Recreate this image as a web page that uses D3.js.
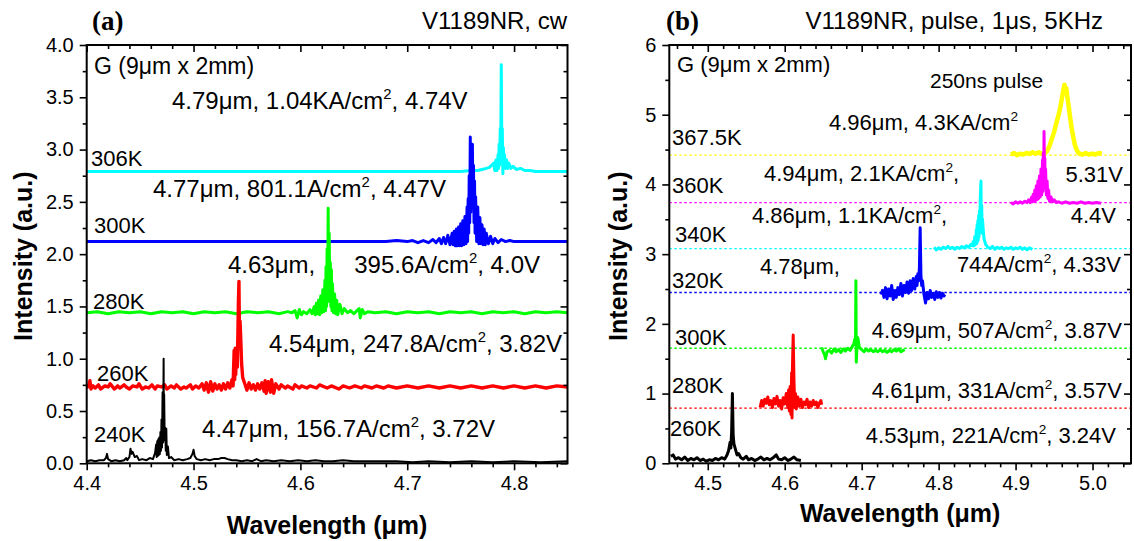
<!DOCTYPE html>
<html>
<head>
<meta charset="utf-8">
<script src="https://cdn.jsdelivr.net/npm/d3@7"></script>
<style>
  body { margin: 0; background: #fff; }
  text { font-family: "Liberation Sans", Arial, sans-serif; fill: #000; }
</style>
</head>
<body>
<svg id="fig" width="1134" height="541"></svg>
<script>
// ---------------- Panel (a): CW spectra, wavelength (um) vs intensity (a.u.) ----------------
const cw306K = [[4.400,2.79],[4.420,2.79],[4.440,2.79],[4.460,2.79],[4.480,2.79],[4.500,2.79],[4.520,2.79],[4.540,2.79],[4.560,2.79],[4.580,2.79],[4.600,2.79],[4.620,2.79],[4.640,2.79],[4.660,2.79],[4.680,2.79],[4.700,2.79],[4.720,2.79],[4.740,2.79],[4.750,2.79],[4.760,2.80],[4.766,2.80],[4.770,2.81],[4.774,2.82],[4.777,2.83],[4.779,2.85],[4.781,2.87],[4.782,2.80],[4.783,2.90],[4.784,2.80],[4.785,2.95],[4.7855,2.82],[4.786,3.05],[4.7865,2.85],[4.787,3.20],[4.7875,3.00],[4.788,3.81],[4.7885,3.10],[4.789,3.20],[4.7895,2.77],[4.790,3.02],[4.7905,2.82],[4.791,2.95],[4.792,2.82],[4.793,2.90],[4.794,2.82],[4.795,2.87],[4.797,2.82],[4.799,2.84],[4.802,2.81],[4.806,2.82],[4.810,2.80],[4.815,2.80],[4.820,2.79],[4.830,2.79],[4.840,2.79],[4.850,2.79]];

const cw300K = [[4.400,2.12],[4.420,2.12],[4.440,2.12],[4.460,2.12],[4.480,2.12],[4.500,2.12],[4.520,2.12],[4.540,2.12],[4.560,2.12],[4.580,2.12],[4.600,2.12],[4.620,2.12],[4.640,2.12],[4.660,2.12],[4.680,2.12],[4.690,2.13],[4.700,2.12],[4.705,2.13],[4.710,2.11],[4.715,2.13],[4.720,2.11],[4.724,2.14],[4.727,2.11],[4.730,2.15],[4.732,2.10],[4.734,2.16],[4.736,2.10],[4.738,2.18],[4.740,2.09],[4.742,2.20],[4.743,2.09],[4.744,2.22],[4.745,2.08],[4.746,2.24],[4.747,2.08],[4.748,2.26],[4.749,2.08],[4.750,2.29],[4.751,2.08],[4.752,2.32],[4.753,2.09],[4.754,2.36],[4.755,2.10],[4.756,2.45],[4.7565,2.12],[4.757,2.53],[4.7575,2.20],[4.758,2.75],[4.7585,2.30],[4.759,3.12],[4.7595,2.40],[4.760,3.00],[4.7605,2.50],[4.761,3.05],[4.7615,2.45],[4.762,2.85],[4.7625,2.30],[4.763,2.70],[4.7635,2.20],[4.764,2.55],[4.765,2.12],[4.766,2.45],[4.767,2.10],[4.768,2.35],[4.769,2.10],[4.770,2.28],[4.771,2.09],[4.772,2.24],[4.773,2.09],[4.774,2.20],[4.776,2.10],[4.778,2.17],[4.780,2.10],[4.782,2.15],[4.785,2.11],[4.788,2.14],[4.792,2.12],[4.796,2.13],[4.800,2.12],[4.810,2.12],[4.820,2.12],[4.830,2.12],[4.840,2.12],[4.850,2.12]];

const cw280K = [[4.400,1.44],[4.410,1.45],[4.420,1.43],[4.430,1.45],[4.440,1.44],[4.450,1.45],[4.460,1.43],[4.470,1.45],[4.480,1.44],[4.490,1.45],[4.500,1.43],[4.510,1.45],[4.520,1.44],[4.530,1.45],[4.540,1.43],[4.550,1.45],[4.560,1.44],[4.570,1.45],[4.580,1.43],[4.588,1.45],[4.592,1.44],[4.595,1.46],[4.597,1.39],[4.599,1.47],[4.601,1.42],[4.603,1.45],[4.606,1.43],[4.609,1.47],[4.611,1.43],[4.613,1.50],[4.614,1.42],[4.615,1.53],[4.616,1.43],[4.617,1.56],[4.618,1.42],[4.619,1.60],[4.620,1.44],[4.621,1.66],[4.622,1.45],[4.623,1.75],[4.6235,1.46],[4.624,1.88],[4.6245,1.50],[4.625,2.05],[4.6255,1.55],[4.626,2.44],[4.6265,1.60],[4.627,2.20],[4.6275,1.55],[4.628,1.92],[4.6285,1.50],[4.629,1.85],[4.6295,1.46],[4.630,1.72],[4.631,1.44],[4.632,1.62],[4.633,1.43],[4.634,1.56],[4.635,1.42],[4.637,1.52],[4.639,1.43],[4.641,1.48],[4.644,1.44],[4.647,1.46],[4.650,1.43],[4.653,1.46],[4.655,1.48],[4.656,1.39],[4.658,1.47],[4.660,1.43],[4.663,1.45],[4.670,1.44],[4.680,1.45],[4.690,1.43],[4.700,1.45],[4.710,1.44],[4.720,1.45],[4.730,1.43],[4.740,1.45],[4.750,1.44],[4.760,1.45],[4.770,1.43],[4.780,1.45],[4.790,1.44],[4.800,1.45],[4.810,1.43],[4.820,1.45],[4.830,1.44],[4.840,1.45],[4.850,1.44]];

const cw260K = [[4.400,0.72],[4.402,0.75],[4.403,0.79],[4.404,0.71],[4.406,0.74],[4.408,0.72],[4.411,0.75],[4.413,0.71],[4.417,0.74],[4.420,0.73],[4.422,0.76],[4.426,0.71],[4.429,0.74],[4.431,0.72],[4.435,0.75],[4.437,0.73],[4.440,0.71],[4.443,0.74],[4.447,0.73],[4.449,0.76],[4.452,0.71],[4.455,0.73],[4.458,0.72],[4.461,0.75],[4.464,0.71],[4.466,0.74],[4.470,0.73],[4.473,0.75],[4.475,0.71],[4.479,0.74],[4.482,0.72],[4.484,0.75],[4.488,0.71],[4.491,0.73],[4.493,0.72],[4.497,0.75],[4.499,0.71],[4.502,0.74],[4.505,0.72],[4.508,0.76],[4.510,0.70],[4.512,0.77],[4.514,0.68],[4.516,0.78],[4.518,0.69],[4.520,0.76],[4.522,0.71],[4.524,0.75],[4.526,0.70],[4.528,0.76],[4.530,0.71],[4.532,0.77],[4.534,0.72],[4.536,0.80],[4.537,0.74],[4.538,1.08],[4.5385,0.80],[4.539,1.10],[4.5395,0.85],[4.540,1.05],[4.541,0.92],[4.542,1.55],[4.5425,1.74],[4.543,1.15],[4.5435,1.36],[4.544,1.24],[4.545,0.95],[4.546,0.82],[4.548,0.76],[4.550,0.70],[4.552,0.77],[4.554,0.71],[4.556,0.75],[4.558,0.70],[4.560,0.76],[4.562,0.71],[4.564,0.77],[4.566,0.69],[4.567,0.79],[4.568,0.67],[4.570,0.78],[4.572,0.68],[4.573,0.80],[4.575,0.67],[4.577,0.76],[4.580,0.71],[4.582,0.75],[4.586,0.72],[4.588,0.74],[4.593,0.71],[4.595,0.75],[4.599,0.72],[4.601,0.74],[4.606,0.72],[4.609,0.74],[4.615,0.72],[4.618,0.75],[4.625,0.72],[4.629,0.74],[4.636,0.71],[4.640,0.74],[4.646,0.72],[4.651,0.74],[4.657,0.72],[4.660,0.74],[4.667,0.72],[4.671,0.74],[4.678,0.72],[4.682,0.74],[4.690,0.72],[4.700,0.74],[4.710,0.72],[4.720,0.74],[4.730,0.72],[4.740,0.74],[4.750,0.72],[4.760,0.74],[4.770,0.72],[4.780,0.74],[4.790,0.72],[4.800,0.74],[4.810,0.72],[4.820,0.74],[4.830,0.72],[4.840,0.74],[4.850,0.73]];

const cw240K = [[4.400,0.02],[4.404,0.03],[4.408,0.02],[4.412,0.03],[4.416,0.03],[4.418,0.05],[4.419,0.09],[4.420,0.04],[4.423,0.02],[4.427,0.03],[4.431,0.02],[4.435,0.03],[4.437,0.05],[4.438,0.03],[4.440,0.06],[4.441,0.14],[4.442,0.09],[4.443,0.11],[4.445,0.06],[4.447,0.07],[4.449,0.03],[4.452,0.04],[4.456,0.03],[4.459,0.05],[4.462,0.04],[4.464,0.10],[4.465,0.18],[4.4655,0.06],[4.466,0.21],[4.4665,0.07],[4.467,0.23],[4.4675,0.08],[4.468,0.25],[4.4685,0.09],[4.469,0.30],[4.4695,0.12],[4.470,0.42],[4.4705,0.15],[4.471,0.68],[4.4715,0.20],[4.472,1.00],[4.4722,0.30],[4.4725,0.66],[4.473,0.22],[4.4735,0.34],[4.474,0.12],[4.4745,0.33],[4.475,0.08],[4.476,0.16],[4.477,0.05],[4.479,0.06],[4.482,0.03],[4.486,0.04],[4.490,0.03],[4.494,0.04],[4.497,0.05],[4.499,0.09],[4.500,0.13],[4.501,0.07],[4.503,0.04],[4.507,0.03],[4.511,0.04],[4.515,0.03],[4.519,0.04],[4.523,0.04],[4.526,0.05],[4.529,0.05],[4.532,0.04],[4.536,0.03],[4.540,0.03],[4.545,0.02],[4.550,0.03],[4.555,0.02],[4.559,0.04],[4.563,0.02],[4.568,0.03],[4.575,0.02],[4.582,0.03],[4.590,0.02],[4.598,0.03],[4.606,0.02],[4.614,0.03],[4.622,0.02],[4.630,0.02],[4.640,0.03],[4.650,0.02],[4.660,0.02],[4.675,0.02],[4.690,0.02],[4.705,0.01],[4.720,0.02],[4.740,0.01],[4.760,0.02],[4.780,0.01],[4.800,0.02],[4.825,0.01],[4.850,0.02]];

// ---------------- Panel (b): pulsed spectra ----------------
const pulse367K = [[4.894,4.43],[4.898,4.45],[4.902,4.42],[4.906,4.44],[4.910,4.43],[4.914,4.45],[4.918,4.44],[4.922,4.46],[4.926,4.44],[4.930,4.46],[4.934,4.44],[4.938,4.45],[4.941,4.48],[4.944,4.55],[4.947,4.65],[4.950,4.75],[4.953,4.88],[4.956,5.00],[4.958,5.10],[4.960,5.22],[4.962,5.35],[4.9635,5.43],[4.965,5.36],[4.966,5.38],[4.967,5.28],[4.969,5.12],[4.971,4.95],[4.973,4.80],[4.975,4.68],[4.977,4.57],[4.980,4.48],[4.983,4.44],[4.987,4.43],[4.991,4.45],[4.995,4.43],[5.000,4.44],[5.004,4.43],[5.008,4.45],[5.012,4.44]];

const pulse360K = [[4.894,3.74],[4.897,3.72],[4.900,3.75],[4.903,3.73],[4.906,3.75],[4.909,3.73],[4.912,3.76],[4.915,3.74],[4.917,3.78],[4.919,3.74],[4.921,3.82],[4.922,3.75],[4.923,3.86],[4.924,3.76],[4.925,3.92],[4.926,3.77],[4.927,3.98],[4.928,3.78],[4.929,4.05],[4.930,3.80],[4.931,4.12],[4.932,3.82],[4.933,4.22],[4.934,3.85],[4.935,4.35],[4.9355,3.90],[4.936,4.45],[4.9365,4.00],[4.937,4.76],[4.9375,4.10],[4.938,4.38],[4.9385,3.95],[4.939,4.22],[4.940,3.85],[4.941,4.05],[4.942,3.80],[4.943,3.92],[4.944,3.76],[4.946,3.82],[4.948,3.75],[4.950,3.78],[4.953,3.74],[4.956,3.75],[4.960,3.73],[4.965,3.75],[4.970,3.73],[4.975,3.74],[4.980,3.73],[4.985,3.75],[4.990,3.73],[4.995,3.74],[5.000,3.73],[5.005,3.74],[5.011,3.73]];

const pulse340K = [[4.794,3.10],[4.797,3.06],[4.800,3.09],[4.803,3.07],[4.806,3.10],[4.809,3.08],[4.812,3.11],[4.815,3.08],[4.818,3.10],[4.821,3.07],[4.824,3.10],[4.827,3.08],[4.830,3.11],[4.833,3.09],[4.836,3.12],[4.839,3.10],[4.842,3.14],[4.844,3.12],[4.845,3.18],[4.846,3.12],[4.847,3.25],[4.848,3.14],[4.849,3.35],[4.8495,3.15],[4.850,3.42],[4.8505,3.18],[4.851,3.48],[4.8515,3.20],[4.852,3.55],[4.8525,3.25],[4.853,3.62],[4.8535,3.30],[4.854,3.75],[4.855,4.05],[4.8555,3.40],[4.856,3.70],[4.8565,3.30],[4.857,3.50],[4.858,3.35],[4.859,3.22],[4.861,3.14],[4.864,3.10],[4.867,3.08],[4.870,3.11],[4.873,3.07],[4.876,3.10],[4.879,3.08],[4.882,3.10],[4.885,3.07],[4.888,3.09],[4.891,3.08],[4.894,3.10],[4.897,3.07],[4.900,3.09],[4.903,3.08],[4.906,3.10],[4.909,3.07],[4.912,3.09],[4.915,3.06],[4.918,3.09],[4.922,3.07]];

const pulse320K = [[4.725,2.42],[4.727,2.48],[4.729,2.38],[4.731,2.52],[4.733,2.36],[4.735,2.50],[4.737,2.40],[4.739,2.55],[4.741,2.35],[4.743,2.48],[4.745,2.38],[4.747,2.52],[4.749,2.42],[4.751,2.58],[4.753,2.40],[4.755,2.55],[4.757,2.45],[4.759,2.60],[4.761,2.44],[4.763,2.62],[4.765,2.48],[4.767,2.65],[4.769,2.50],[4.771,2.68],[4.772,2.55],[4.773,2.72],[4.774,2.62],[4.775,2.80],[4.776,3.38],[4.777,2.70],[4.778,2.55],[4.779,2.62],[4.781,2.42],[4.783,2.30],[4.785,2.45],[4.787,2.36],[4.789,2.48],[4.791,2.38],[4.793,2.44],[4.795,2.35],[4.797,2.46],[4.799,2.38],[4.801,2.45],[4.803,2.37],[4.805,2.44],[4.807,2.40],[4.808,2.42]];

const pulse300K = [[4.648,1.66],[4.650,1.60],[4.652,1.55],[4.653,1.50],[4.655,1.60],[4.658,1.62],[4.661,1.58],[4.664,1.64],[4.667,1.60],[4.670,1.63],[4.673,1.59],[4.676,1.64],[4.679,1.61],[4.682,1.65],[4.685,1.62],[4.688,1.68],[4.690,1.72],[4.691,1.78],[4.692,1.70],[4.6925,2.62],[4.693,1.45],[4.694,1.70],[4.695,1.80],[4.697,1.66],[4.700,1.63],[4.703,1.60],[4.706,1.64],[4.709,1.61],[4.712,1.63],[4.715,1.60],[4.718,1.62],[4.721,1.60],[4.724,1.63],[4.727,1.60],[4.730,1.62],[4.733,1.59],[4.736,1.62],[4.739,1.60],[4.742,1.63],[4.745,1.61],[4.748,1.64],[4.751,1.60],[4.754,1.62],[4.756,1.63]];

const pulse280K = [[4.568,0.80],[4.570,0.90],[4.572,0.82],[4.574,0.92],[4.576,0.86],[4.578,0.95],[4.580,0.84],[4.582,0.90],[4.584,0.80],[4.586,0.93],[4.588,0.85],[4.590,0.96],[4.592,0.82],[4.594,0.90],[4.596,0.78],[4.598,0.94],[4.600,0.85],[4.602,1.00],[4.604,0.80],[4.605,1.05],[4.606,0.75],[4.607,1.10],[4.608,0.70],[4.609,1.30],[4.6095,0.65],[4.610,1.35],[4.611,1.84],[4.612,1.20],[4.613,0.80],[4.614,1.00],[4.615,0.78],[4.617,0.95],[4.619,0.82],[4.621,0.92],[4.623,0.80],[4.625,0.88],[4.627,0.84],[4.629,0.92],[4.631,0.80],[4.633,0.88],[4.635,0.82],[4.637,0.90],[4.639,0.84],[4.641,0.88],[4.643,0.80],[4.645,0.86],[4.647,0.90],[4.648,0.84]];

const pulse260K = [[4.452,0.10],[4.455,0.12],[4.458,0.06],[4.462,0.08],[4.466,0.05],[4.470,0.09],[4.474,0.04],[4.478,0.07],[4.482,0.05],[4.486,0.08],[4.490,0.04],[4.494,0.06],[4.498,0.03],[4.502,0.05],[4.506,0.04],[4.510,0.07],[4.514,0.05],[4.518,0.08],[4.522,0.06],[4.525,0.12],[4.527,0.18],[4.529,0.30],[4.530,0.22],[4.531,0.45],[4.532,1.00],[4.533,0.40],[4.534,0.28],[4.536,0.20],[4.538,0.12],[4.540,0.14],[4.543,0.08],[4.546,0.06],[4.550,0.10],[4.553,0.05],[4.557,0.07],[4.561,0.04],[4.565,0.06],[4.569,0.09],[4.573,0.05],[4.577,0.07],[4.581,0.05],[4.585,0.08],[4.589,0.12],[4.592,0.06],[4.596,0.05],[4.600,0.08],[4.604,0.04],[4.608,0.06],[4.612,0.09],[4.616,0.05],[4.621,0.04]];

// dotted reference levels in panel (b)
const guideLevelsB = [4.42, 3.74, 3.08, 2.45, 1.65, 0.79];
const guideColorsB = ["#ffff00", "#ff00ff", "#00ffff", "#0000ff", "#00ff00", "#ff0000"];

// ticks
const xMajorA = [4.4, 4.5, 4.6, 4.7, 4.8];
const xMinorA = [4.42, 4.44, 4.46, 4.48, 4.52, 4.54, 4.56, 4.58, 4.62, 4.64, 4.66, 4.68, 4.72, 4.74, 4.76, 4.78, 4.82, 4.84];
const yMajorA = [0, 0.5, 1, 1.5, 2, 2.5, 3, 3.5, 4];
const yMinorA = [0.25, 0.75, 1.25, 1.75, 2.25, 2.75, 3.25, 3.75];
const xMajorB = [4.5, 4.6, 4.7, 4.8, 4.9, 5.0];
const xMinorB = [4.46, 4.48, 4.52, 4.54, 4.56, 4.58, 4.62, 4.64, 4.66, 4.68, 4.72, 4.74, 4.76, 4.78, 4.82, 4.84, 4.86, 4.88, 4.92, 4.94, 4.96, 4.98, 5.02, 5.04];
const yMajorB = [0, 1, 2, 3, 4, 5, 6];
const yMinorB = [0.5, 1.5, 2.5, 3.5, 4.5, 5.5];

// ---------------- drawing ----------------
const svg = d3.select("#fig");
svg.append("rect").attr("width", 1134).attr("height", 541).attr("fill", "#fff");
const defs = svg.append("defs");

function addLabel(g, x, y, str, size, anchor) {
  const t = g.append("text").attr("x", x).attr("y", y)
    .attr("font-size", size).attr("text-anchor", anchor || "start");
  const bits = str.split("^2");
  bits.forEach((b, i) => {
    if (i > 0) t.append("tspan").attr("dy", -0.42 * size).attr("font-size", size * 0.62).text("2");
    const ts = t.append("tspan").text(b);
    if (i > 0) ts.attr("dy", 0.42 * size);
  });
  return t;
}

function drawPanel(p) {
  const g = svg.append("g");
  const x = d3.scaleLinear().domain(p.xDomain).range([p.left, p.right]);
  const y = d3.scaleLinear().domain(p.yDomain).range([p.bottom, p.top]);

  defs.append("clipPath").attr("id", "clip-" + p.id)
    .append("rect").attr("x", p.left).attr("y", p.top)
    .attr("width", p.right - p.left).attr("height", p.bottom - p.top);
  const plot = g.append("g").attr("clip-path", `url(#clip-${p.id})`);

  if (p.guides) {
    p.guides.levels.forEach((v, i) => {
      plot.append("line")
        .attr("x1", x(p.xDomain[0])).attr("x2", x(p.xDomain[1]))
        .attr("y1", y(v)).attr("y2", y(v))
        .attr("stroke", p.guides.colors[i]).attr("stroke-width", 1.3)
        .attr("stroke-dasharray", "2.5,2.5");
    });
  }

  const line = d3.line().x(d => x(d[0])).y(d => y(d[1]));
  p.series.forEach(s => {
    plot.append("path").attr("d", line(s.data))
      .attr("fill", "none").attr("stroke", s.color)
      .attr("stroke-width", s.width).attr("stroke-linejoin", "round");
  });

  const fmtX = d3.format(".1f");
  const axisStyle = sel => {
    sel.select(".domain").remove();
    sel.selectAll("line").attr("stroke", "#000").attr("stroke-width", 1.6);
    sel.attr("font-family", '"Liberation Sans", Arial, sans-serif').attr("font-size", p.tickFont);
    sel.selectAll("text").attr("fill", "#000");
  };
  // bottom & left: outward ticks with labels
  g.append("g").attr("transform", `translate(0,${p.bottom})`)
    .call(d3.axisBottom(x).tickValues(p.xMajor).tickSize(7).tickPadding(6).tickFormat(fmtX)).call(axisStyle);
  g.append("g").attr("transform", `translate(0,${p.bottom})`)
    .call(d3.axisBottom(x).tickValues(p.xMinor).tickSize(4).tickFormat("")).call(axisStyle);
  g.append("g").attr("transform", `translate(${p.left},0)`)
    .call(d3.axisLeft(y).tickValues(p.yMajor).tickSize(7).tickPadding(6).tickFormat(p.yFormat)).call(axisStyle);
  g.append("g").attr("transform", `translate(${p.left},0)`)
    .call(d3.axisLeft(y).tickValues(p.yMinor).tickSize(4).tickFormat("")).call(axisStyle);
  // top & right: inward ticks, no labels
  g.append("g").attr("transform", `translate(0,${p.top})`)
    .call(d3.axisTop(x).tickValues(p.xMajor).tickSize(-7).tickFormat("")).call(axisStyle);
  g.append("g").attr("transform", `translate(0,${p.top})`)
    .call(d3.axisTop(x).tickValues(p.xMinor).tickSize(-4).tickFormat("")).call(axisStyle);
  g.append("g").attr("transform", `translate(${p.right},0)`)
    .call(d3.axisRight(y).tickValues(p.yMajor).tickSize(-7).tickFormat("")).call(axisStyle);
  g.append("g").attr("transform", `translate(${p.right},0)`)
    .call(d3.axisRight(y).tickValues(p.yMinor).tickSize(-4).tickFormat("")).call(axisStyle);

  g.append("rect").attr("x", p.left).attr("y", p.top)
    .attr("width", p.right - p.left).attr("height", p.bottom - p.top)
    .attr("fill", "none").attr("stroke", "#000").attr("stroke-width", 2);

  // axis titles
  g.append("text").attr("x", (p.left + p.right) / 2).attr("y", p.xTitleY)
    .attr("text-anchor", "middle").attr("font-weight", "bold").attr("font-size", 25)
    .text("Wavelength (μm)");
  g.append("text").attr("transform", `translate(${p.yTitleX},${(p.top + p.bottom) / 2 + 2}) rotate(-90)`)
    .attr("text-anchor", "middle").attr("dy", "0.35em").attr("font-weight", "bold").attr("font-size", 25)
    .text("Intensity (a.u.)");

  // panel letter and heading
  g.append("text").attr("x", p.letterX).attr("y", 30)
    .style("font-family", '"Liberation Serif", "Times New Roman", serif')
    .attr("font-weight", "bold").attr("font-size", 27).text(p.letter);
  g.append("text").attr("x", p.headX).attr("y", 29).attr("text-anchor", "end")
    .attr("font-size", p.headSize).text(p.heading);

  p.labels.forEach(l => addLabel(g, l[0], l[1], l[2], l[3], l[4]));
}

drawPanel({
  id: "a", left: 86.7, right: 567.5, top: 45, bottom: 463.3,
  xDomain: [4.4, 4.85], yDomain: [0, 4],
  xMajor: xMajorA, xMinor: xMinorA, yMajor: yMajorA, yMinor: yMinorA,
  yFormat: d3.format(".1f"), tickFont: 20,
  series: [
    { data: cw306K, color: "#00ffff", width: 3 },
    { data: cw300K, color: "#0000ff", width: 3 },
    { data: cw280K, color: "#00ff00", width: 3 },
    { data: cw260K, color: "#ff0000", width: 3.4 },
    { data: cw240K, color: "#000000", width: 2 }
  ],
  xTitleY: 534, yTitleX: 23,
  letter: "(a)", letterX: 92, heading: "V1189NR, cw", headX: 567, headSize: 24,
  labels: [
    [94, 74, "G (9μm x 2mm)", 23, "start"],
    [172, 109, "4.79μm, 1.04KA/cm^2, 4.74V", 24, "start"],
    [91, 166, "306K", 22, "start"],
    [153, 197, "4.77μm, 801.1A/cm^2, 4.47V", 24, "start"],
    [94, 233, "300K", 22, "start"],
    [228, 273, "4.63μm,", 24, "start"],
    [540, 273, "395.6A/cm^2, 4.0V", 24, "end"],
    [93, 309, "280K", 22, "start"],
    [562, 352, "4.54μm, 247.8A/cm^2, 3.82V", 24, "end"],
    [97, 381, "260K", 22, "start"],
    [94, 442, "240K", 22, "start"],
    [495, 437, "4.47μm, 156.7A/cm^2, 3.72V", 24, "end"]
  ]
});

drawPanel({
  id: "b", left: 669.3, right: 1131, top: 45, bottom: 463.3,
  xDomain: [4.45, 5.05], yDomain: [0, 6],
  xMajor: xMajorB, xMinor: xMinorB, yMajor: yMajorB, yMinor: yMinorB,
  yFormat: d3.format("d"), tickFont: 20,
  guides: { levels: guideLevelsB, colors: guideColorsB },
  series: [
    { data: pulse367K, color: "#ffff00", width: 4.5 },
    { data: pulse360K, color: "#ff00ff", width: 3 },
    { data: pulse340K, color: "#00ffff", width: 3 },
    { data: pulse320K, color: "#0000ff", width: 3 },
    { data: pulse300K, color: "#00ff00", width: 3 },
    { data: pulse280K, color: "#ff0000", width: 3 },
    { data: pulse260K, color: "#000000", width: 3 }
  ],
  xTitleY: 522, yTitleX: 618,
  letter: "(b)", letterX: 666, heading: "V1189NR, pulse, 1μs, 5KHz", headX: 1103, headSize: 24,
  labels: [
    [677, 72, "G (9μm x 2mm)", 22, "start"],
    [930, 88, "250ns pulse", 21, "start"],
    [829, 130, "4.96μm, 4.3KA/cm^2", 22, "start"],
    [672, 145, "367.5K", 22, "start"],
    [764, 181, "4.94μm, 2.1KA/cm^2,", 22, "start"],
    [1123, 182, "5.31V", 22, "end"],
    [672, 193, "360K", 22, "start"],
    [752, 223, "4.86μm, 1.1KA/cm^2,", 22, "start"],
    [1116, 223, "4.4V", 22, "end"],
    [675, 242, "340K", 22, "start"],
    [760, 274, "4.78μm,", 22, "start"],
    [1121, 272, "744A/cm^2, 4.33V", 22, "end"],
    [672, 288, "320K", 22, "start"],
    [1122, 338, "4.69μm, 507A/cm^2, 3.87V", 22, "end"],
    [675, 345, "300K", 22, "start"],
    [1122, 398, "4.61μm, 331A/cm^2, 3.57V", 22, "end"],
    [672, 393, "280K", 22, "start"],
    [670, 436, "260K", 22, "start"],
    [1116, 443, "4.53μm, 221A/cm^2, 3.24V", 22, "end"]
  ]
});
</script>
</body>
</html>
